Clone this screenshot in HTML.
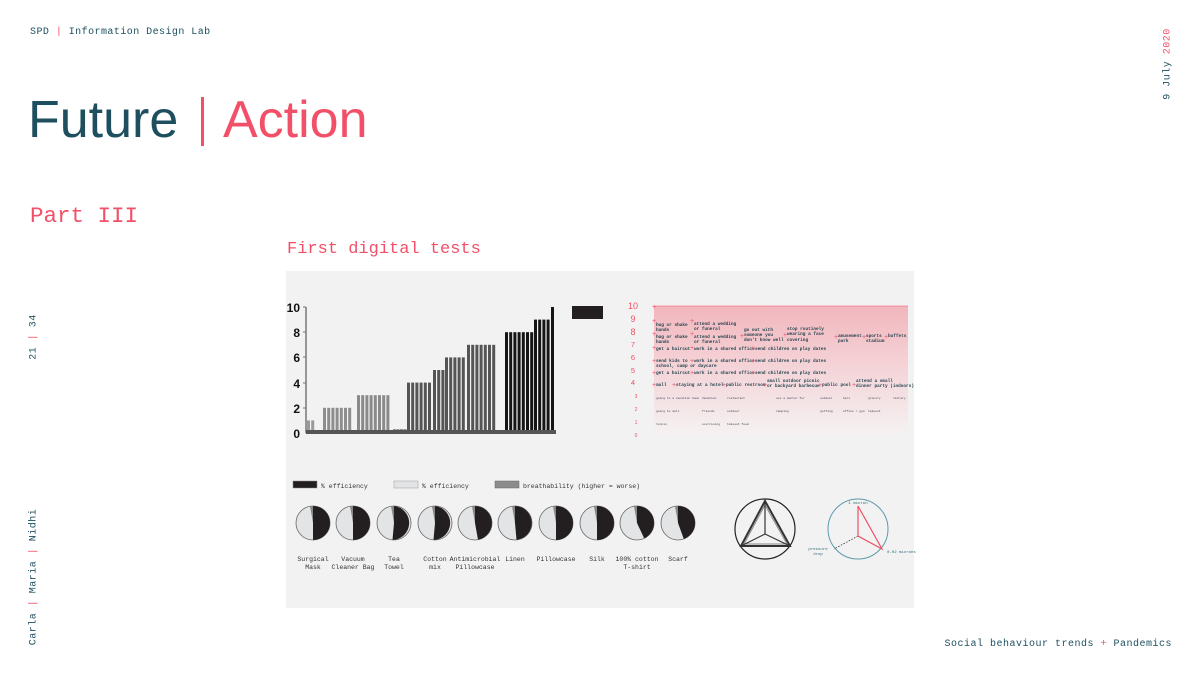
<!DOCTYPE html>
<html><head><meta charset="utf-8"><style>
body{margin:0;width:1200px;height:675px;background:#fff;overflow:hidden;position:relative;font-family:"Liberation Mono",monospace}
.t{position:absolute;white-space:nowrap}
.teal{color:#1d4f5f}.pink{color:#f25068}
</style></head><body>
<div class="t teal" style="left:30px;top:27px;font-size:10px;letter-spacing:0.45px">SPD <span class="pink">|</span> Information Design Lab</div>
<div class="t" style="left:28px;top:90px;font-family:'Liberation Sans',sans-serif;font-size:52px;line-height:60px"><span class="teal">Future</span></div>
<div class="t" style="left:201px;top:97px;width:3px;height:49px;background:#f25068"></div>
<div class="t pink" style="left:223px;top:90px;font-family:'Liberation Sans',sans-serif;font-size:52px;line-height:60px">Action</div>
<div class="t pink" style="left:30px;top:203px;font-size:22.5px">Part III</div>
<div class="t pink" style="left:287px;top:240px;font-size:17px">First digital tests</div>
<div class="t teal" style="left:1168px;top:64px;font-size:10px;letter-spacing:0.5px;transform:translate(-50%,-50%) rotate(-90deg)">9 July <span class="pink">2020</span></div>
<div class="t teal" style="left:34px;top:337px;font-size:10px;letter-spacing:0.5px;transform:translate(-50%,-50%) rotate(-90deg)">21 <span class="pink">|</span> 34</div>
<div class="t teal" style="left:34px;top:577px;font-size:10px;letter-spacing:0.5px;transform:translate(-50%,-50%) rotate(-90deg)">Carla <span class="pink">|</span> Maria <span class="pink">|</span> Nidhi</div>
<div class="t teal" style="right:28px;top:639px;font-size:10px;letter-spacing:0.5px">Social behaviour trends <span class="pink">+</span> Pandemics</div>

<svg style="position:absolute;left:0;top:0" width="1200" height="675" font-family="Liberation Mono, monospace">
<defs><linearGradient id="pg" x1="0" y1="0" x2="0" y2="1"><stop offset="0" stop-color="#f2b6bd"/><stop offset="0.5" stop-color="#f4d5d9"/><stop offset="1" stop-color="#f5f2f2"/></linearGradient></defs>
<rect x="286" y="271" width="628" height="337" fill="#f2f2f2"/>
<g font-family="Liberation Sans, sans-serif" font-weight="bold" font-size="12" fill="#111" text-anchor="end">
<text x="300" y="312">10</text><text x="300" y="337">8</text><text x="300" y="362">6</text><text x="300" y="388">4</text><text x="300" y="413">2</text><text x="300" y="438">0</text></g>
<line x1="306" y1="307" x2="306" y2="433" stroke="#777" stroke-width="1.5"/>
<g stroke="#777" stroke-width="1"><line x1="303" y1="307" x2="306" y2="307"/><line x1="303" y1="332" x2="306" y2="332"/><line x1="303" y1="357" x2="306" y2="357"/><line x1="303" y1="383" x2="306" y2="383"/><line x1="303" y1="408" x2="306" y2="408"/></g>
<g id="bars"></g>
<rect x="306" y="430" width="250" height="4" fill="#555"/>
<rect x="572" y="306" width="31" height="13" fill="#231f20"/>
<rect x="654" y="306" width="254" height="129" fill="url(#pg)"/>
<line x1="654" y1="306" x2="908" y2="306" stroke="#f25068" stroke-width="0.6"/>
<g font-size="7.5" fill="#f25068" text-anchor="middle" font-family="Liberation Sans, sans-serif">
<text x="633" y="309" font-size="9">10</text><text x="633" y="322" font-size="9">9</text><text x="633" y="335" font-size="9">8</text><text x="633" y="347">7</text><text x="633" y="360">6</text><text x="633" y="373">5</text><text x="633" y="385">4</text>
<text x="636" y="398" font-size="5">3</text><text x="636" y="411" font-size="5">2</text><text x="636" y="424" font-size="5">1</text><text x="636" y="437" font-size="5">0</text></g>
<g font-size="4.4" fill="#1d3f4a" font-weight="bold">
<text x="656" y="326">hug or shake</text><text x="656" y="331">hands</text>
<text x="694" y="325">attend a wedding</text><text x="694" y="330">or funeral</text>
<text x="656" y="338">hug or shake</text><text x="656" y="343">hands</text>
<text x="694" y="338">attend a wedding</text><text x="694" y="343">or funeral</text>
<text x="744" y="331">go out with</text><text x="744" y="336">someone you</text><text x="744" y="341">don't know well</text>
<text x="787" y="330">stop routinely</text><text x="787" y="335">wearing a face</text><text x="787" y="341">covering</text>
<text x="838" y="337">amusement</text><text x="838" y="342">park</text>
<text x="866" y="337">sports</text><text x="866" y="342">stadium</text>
<text x="888" y="337">buffets</text>
<text x="656" y="350">get a haircut</text><text x="694" y="350">work in a shared office</text><text x="755" y="350">send children on play dates</text>
<text x="656" y="362">send kids to</text><text x="656" y="367">school, camp or daycare</text><text x="694" y="362">work in a shared office</text><text x="755" y="362">send children on play dates</text>
<text x="656" y="374">get a haircut</text><text x="694" y="374">work in a shared office</text><text x="755" y="374">send children on play dates</text>
<text x="656" y="386">mall</text><text x="676" y="386">staying at a hotel</text><text x="726" y="386">public restroom</text>
<text x="767" y="382">small outdoor picnic</text><text x="767" y="387">or backyard barbecue</text>
<text x="822" y="386">public pool</text><text x="856" y="382">attend a small</text><text x="856" y="387">dinner party (indoors)</text>
</g>
<g font-size="3" fill="#445">
<text x="656" y="399">going to a vacation home</text><text x="702" y="399">Vacation</text><text x="727" y="399">restaurant</text><text x="776" y="399">see a doctor for</text><text x="820" y="399">outdoor</text><text x="843" y="399">bars</text><text x="868" y="399">grocery</text><text x="893" y="399">library</text>
<text x="656" y="412">going to mall</text><text x="702" y="412">friends</text><text x="727" y="412">outdoor</text><text x="776" y="412">camping</text><text x="820" y="412">golfing</text><text x="843" y="412">office / gym</text><text x="868" y="412">takeout</text>
<text x="656" y="425">tennis</text><text x="702" y="425">exercising</text><text x="727" y="425">takeout food</text>
</g>
<g id="plus" fill="#f25068" font-size="7" font-family="Liberation Sans, sans-serif"></g>
<rect x="293" y="481" width="24" height="7" fill="#231f20" stroke="#888" stroke-width="0.5"/>
<text x="321" y="488" font-size="6.5" fill="#333">% efficiency</text>
<rect x="394" y="481" width="24" height="7" fill="#e3e4e6" stroke="#999" stroke-width="0.5"/>
<text x="422" y="488" font-size="6.5" fill="#333">% efficiency</text>
<rect x="495" y="481" width="24" height="7" fill="#8c8c8c" stroke="#666" stroke-width="0.5"/>
<text x="523" y="488" font-size="6.5" fill="#333">breathability (higher = worse)</text>
<g id="pies"></g>
<g font-size="6.5" fill="#333" text-anchor="middle">
<text x="313" y="561">Surgical</text><text x="313" y="569">Mask</text>
<text x="353" y="561">Vacuum</text><text x="353" y="569">Cleaner Bag</text>
<text x="394" y="561">Tea</text><text x="394" y="569">Towel</text>
<text x="435" y="561">Cotton</text><text x="435" y="569">mix</text>
<text x="475" y="561">Antimicrobial</text><text x="475" y="569">Pillowcase</text>
<text x="515" y="561">Linen</text>
<text x="556" y="561">Pillowcase</text>
<text x="597" y="561">Silk</text>
<text x="637" y="561">100% cotton</text><text x="637" y="569">T-shirt</text>
<text x="678" y="561">Scarf</text>
</g>
<circle cx="765" cy="529" r="30" fill="none" stroke="#222" stroke-width="1.2"/>
<polygon points="765,501 741,546 790,546" fill="none" stroke="#333" stroke-width="2"/>
<polygon points="765,505 744,544 787,544" fill="none" stroke="#888" stroke-width="1"/>
<g stroke="#333" stroke-width="1.2"><line x1="765" y1="534" x2="765" y2="502"/><line x1="765" y1="534" x2="741" y2="546"/><line x1="765" y1="534" x2="790" y2="546"/></g>
<circle cx="858" cy="529" r="30" fill="none" stroke="#5a9aaa" stroke-width="1"/>
<g stroke="#333" stroke-width="0.8" stroke-dasharray="1.5,1.5"><line x1="858" y1="536" x2="858" y2="506"/><line x1="858" y1="536" x2="834" y2="549"/><line x1="858" y1="536" x2="882" y2="549"/></g>
<polyline points="858,506 882,549 858,536 858,506" fill="none" stroke="#f25068" stroke-width="1.2"/>
<text x="858" y="504" font-size="4" fill="#2a6a7a" text-anchor="middle">1 micron</text>
<text x="887" y="553" font-size="4" fill="#2a6a7a">0.02 microns</text>
<text x="818" y="550" font-size="4" fill="#2a6a7a" text-anchor="middle">pressure</text>
<text x="818" y="555" font-size="4" fill="#2a6a7a" text-anchor="middle">drop</text>
</svg>
<script>
var ns="http://www.w3.org/2000/svg",g=document.getElementById("bars");
function bar(x,v,c){var r=document.createElementNS(ns,"rect");var h=v*12.6;r.setAttribute("x",x);r.setAttribute("y",433-h);r.setAttribute("width",3);r.setAttribute("height",h);r.setAttribute("fill",c);g.appendChild(r);}
var groups=[[307,2,1,"#9a9a9a"],[323,7,2,"#8e8e8e"],[357,8,3,"#8a8a8a"],[407,6,4,"#555"],[433,3,5,"#555"],[445,5,6,"#555"],[467,7,7,"#555"],[505,7,8,"#151515"],[534,4,9,"#151515"],[551,1,10,"#151515"]];
groups.forEach(function(a){for(var i=0;i<a[1];i++)bar(a[0]+i*4.2,a[2],a[3]);});
for(var i=0;i<4;i++)bar(393+i*3.5,0.3,"#777");
var p=document.getElementById("pies");
var cx=[313,353,394,435,475,515,556,597,637,678],ang=[0,0,5,5,-10,-5,0,0,-25,-20];
cx.forEach(function(x,i){var r=17,cy=523;
var c=document.createElementNS(ns,"circle");c.setAttribute("cx",x);c.setAttribute("cy",cy);c.setAttribute("r",r);c.setAttribute("fill","#e3e4e6");c.setAttribute("stroke","#666");c.setAttribute("stroke-width","0.8");p.appendChild(c);
var a=ang[i]*Math.PI/180;var bx=x-Math.sin(a)*r,by=cy+Math.cos(a)*r;
var d=document.createElementNS(ns,"path");d.setAttribute("d","M"+x+","+(cy-r)+" A"+r+","+r+" 0 0 1 "+bx.toFixed(1)+","+by.toFixed(1)+" L"+x+","+cy+" Z");d.setAttribute("fill","#231f20");p.appendChild(d);
var w=document.createElementNS(ns,"path");w.setAttribute("d","M"+x+","+cy+" L"+x+","+(cy-r)+" L"+(x-3)+","+(cy-r+0.3)+" Z");w.setAttribute("fill","#888");p.appendChild(w);});
var pl=document.getElementById("plus");
[[654,308],[654,322],[692,322],[654,335],[692,335],[742,337],[785,336],[836,338],[864,338],[886,338],[654,349],[692,349],[753,349],[654,362],[692,362],[753,362],[654,374],[692,374],[753,374],[654,386],[674,386],[724,386],[765,386],[820,386],[854,386]].forEach(function(q){var t=document.createElementNS(ns,"text");t.setAttribute("x",q[0]-2);t.setAttribute("y",q[1]+1);t.textContent="+";pl.appendChild(t);});
</script>
</body></html>
